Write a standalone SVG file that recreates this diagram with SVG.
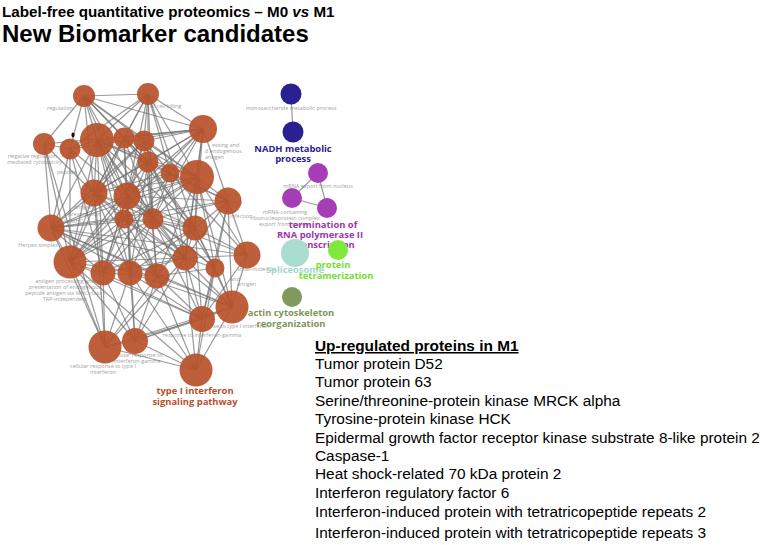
<svg xmlns="http://www.w3.org/2000/svg" width="761" height="545" viewBox="0 0 761 545">
<style>
.t1{font-family:"Liberation Sans",Arial,sans-serif;font-weight:bold;fill:#000}
.ls{font-family:"Liberation Sans",Arial,sans-serif;font-size:15.4px;fill:#000}
.gl{font-family:"Open Sans","Liberation Sans",sans-serif;font-size:5.5px;fill:#a3a3a3}
.cl{font-family:"Open Sans","Liberation Sans",sans-serif;font-size:9.4px;font-weight:bold;text-anchor:middle}
.e line{stroke:#707070;stroke-width:1.25;stroke-opacity:0.7}
.on{fill:#b8512a;fill-opacity:0.92}
</style>
<rect width="761" height="545" fill="#fff"/>
<text class="t1" x="2" y="17" font-size="15.2">Label-free quantitative proteomics – M0 <tspan font-style="italic">vs</tspan> M1</text>
<text class="t1" x="2" y="42" font-size="24">New Biomarker candidates</text>

<g id="labels-gray">
<text class="gl" x="47" y="110">regulation</text>
<text class="gl" x="150" y="108">of cell killing</text>
<text class="gl" x="212" y="147">essing and</text>
<text class="gl" x="205" y="153">d endogenous</text>
<text class="gl" x="205" y="159">antigen</text>
<text class="gl" x="57" y="158" text-anchor="end">negative regulation</text>
<text class="gl" x="62" y="164" text-anchor="end">mediated cytotoxicity</text>
<text class="gl" x="57" y="174">peptide</text>
<text class="gl" x="74" y="209">antigen</text>
<text class="gl" x="68" y="216">presentation</text>
<text class="gl" x="62" y="223">via MHC</text>
<text class="gl" x="58" y="247" text-anchor="end">Herpes simplex</text>
<text class="gl" x="65" y="283" text-anchor="middle">antigen processing and</text>
<text class="gl" x="65" y="289" text-anchor="middle">presentation of endogenous</text>
<text class="gl" x="65" y="295" text-anchor="middle">peptide antigen via MHC class I</text>
<text class="gl" x="65" y="301" text-anchor="middle">TAP-independent</text>
<text class="gl" x="103" y="368" text-anchor="middle">cellular response to type I</text>
<text class="gl" x="103" y="374" text-anchor="middle">interferon</text>
<text class="gl" x="137" y="357" text-anchor="middle">cellular response to</text>
<text class="gl" x="137" y="362.5" text-anchor="middle">interferon-gamma</text>
<text class="gl" x="202" y="337" text-anchor="middle">response to interferon-gamma</text>
<text class="gl" x="232" y="328" text-anchor="middle">response to type I interferon</text>
<text class="gl" x="237" y="271">small-molecule</text>
<text class="gl" x="230" y="281">and</text>
<text class="gl" x="237" y="286">antigen</text>
<text class="gl" x="220" y="197">and</text>
<text class="gl" x="218" y="204">enomous</text>
<text class="gl" x="220" y="210">ated</text>
<text class="gl" x="230" y="218">infection</text>
<text class="gl" x="291" y="110" text-anchor="middle">monosaccharide metabolic process</text>
<text class="gl" x="318" y="188" text-anchor="middle">mRNA export from nucleus</text>
<text class="gl" x="285" y="214" text-anchor="middle">mRNA-containing</text>
<text class="gl" x="285" y="220" text-anchor="middle">ribonucleoprotein complex</text>
<text class="gl" x="285" y="226" text-anchor="middle">export from nucleus</text>
</g>

<g id="connectors" class="e">
<line x1="84" y1="96" x2="148" y2="94"/><line x1="84" y1="96" x2="203" y2="129"/><line x1="84" y1="96" x2="44" y2="144"/><line x1="84" y1="96" x2="70" y2="149"/><line x1="84" y1="96" x2="97" y2="140"/><line x1="84" y1="96" x2="124" y2="138"/><line x1="84" y1="96" x2="144" y2="141"/><line x1="84" y1="96" x2="148" y2="162"/><line x1="84" y1="96" x2="197" y2="177"/><line x1="84" y1="96" x2="94" y2="193"/><line x1="84" y1="96" x2="127" y2="196"/><line x1="84" y1="96" x2="153" y2="219"/>
<line x1="148" y1="94" x2="203" y2="129"/><line x1="148" y1="94" x2="70" y2="149"/><line x1="148" y1="94" x2="97" y2="140"/><line x1="148" y1="94" x2="124" y2="138"/><line x1="148" y1="94" x2="144" y2="141"/><line x1="148" y1="94" x2="148" y2="162"/><line x1="148" y1="94" x2="170" y2="173"/><line x1="148" y1="94" x2="197" y2="177"/><line x1="148" y1="94" x2="94" y2="193"/><line x1="148" y1="94" x2="127" y2="196"/><line x1="148" y1="94" x2="153" y2="219"/><line x1="148" y1="94" x2="195" y2="228"/>
<line x1="203" y1="129" x2="44" y2="144"/><line x1="203" y1="129" x2="70" y2="149"/><line x1="203" y1="129" x2="97" y2="140"/><line x1="203" y1="129" x2="124" y2="138"/><line x1="203" y1="129" x2="144" y2="141"/><line x1="203" y1="129" x2="148" y2="162"/><line x1="203" y1="129" x2="170" y2="173"/><line x1="203" y1="129" x2="197" y2="177"/><line x1="203" y1="129" x2="228" y2="201"/><line x1="203" y1="129" x2="94" y2="193"/><line x1="203" y1="129" x2="127" y2="196"/><line x1="203" y1="129" x2="153" y2="219"/><line x1="203" y1="129" x2="195" y2="228"/><line x1="203" y1="129" x2="70" y2="262"/><line x1="203" y1="129" x2="185" y2="258"/>
<line x1="44" y1="144" x2="70" y2="149"/><line x1="44" y1="144" x2="51" y2="228"/><line x1="44" y1="144" x2="70" y2="262"/><line x1="44" y1="144" x2="94" y2="193"/><line x1="44" y1="144" x2="105" y2="347"/>
<line x1="70" y1="149" x2="97" y2="140"/><line x1="70" y1="149" x2="94" y2="193"/><line x1="70" y1="149" x2="127" y2="196"/><line x1="70" y1="149" x2="51" y2="228"/><line x1="70" y1="149" x2="70" y2="262"/><line x1="70" y1="149" x2="103" y2="273"/>
<line x1="97" y1="140" x2="144" y2="141"/><line x1="97" y1="140" x2="148" y2="162"/><line x1="97" y1="140" x2="94" y2="193"/><line x1="97" y1="140" x2="127" y2="196"/><line x1="97" y1="140" x2="124" y2="219"/><line x1="97" y1="140" x2="153" y2="219"/><line x1="97" y1="140" x2="51" y2="228"/><line x1="97" y1="140" x2="195" y2="228"/><line x1="97" y1="140" x2="70" y2="262"/><line x1="97" y1="140" x2="103" y2="273"/><line x1="97" y1="140" x2="130" y2="273"/><line x1="97" y1="140" x2="157" y2="276"/><line x1="97" y1="140" x2="185" y2="258"/><line x1="97" y1="140" x2="197" y2="177"/><line x1="97" y1="140" x2="228" y2="201"/>
<line x1="124" y1="138" x2="148" y2="162"/><line x1="124" y1="138" x2="94" y2="193"/><line x1="124" y1="138" x2="127" y2="196"/><line x1="124" y1="138" x2="153" y2="219"/><line x1="124" y1="138" x2="195" y2="228"/><line x1="124" y1="138" x2="70" y2="262"/><line x1="124" y1="138" x2="130" y2="273"/><line x1="124" y1="138" x2="197" y2="177"/>
<line x1="144" y1="141" x2="170" y2="173"/><line x1="144" y1="141" x2="197" y2="177"/><line x1="144" y1="141" x2="94" y2="193"/><line x1="144" y1="141" x2="124" y2="219"/><line x1="144" y1="141" x2="51" y2="228"/><line x1="144" y1="141" x2="103" y2="273"/><line x1="144" y1="141" x2="157" y2="276"/><line x1="144" y1="141" x2="185" y2="258"/>
<line x1="148" y1="162" x2="197" y2="177"/><line x1="148" y1="162" x2="94" y2="193"/><line x1="148" y1="162" x2="124" y2="219"/><line x1="148" y1="162" x2="153" y2="219"/><line x1="148" y1="162" x2="195" y2="228"/><line x1="148" y1="162" x2="70" y2="262"/><line x1="148" y1="162" x2="130" y2="273"/><line x1="148" y1="162" x2="157" y2="276"/><line x1="148" y1="162" x2="215" y2="268"/><line x1="148" y1="162" x2="228" y2="201"/>
<line x1="170" y1="173" x2="94" y2="193"/><line x1="170" y1="173" x2="127" y2="196"/><line x1="170" y1="173" x2="153" y2="219"/><line x1="170" y1="173" x2="103" y2="273"/><line x1="170" y1="173" x2="185" y2="258"/><line x1="170" y1="173" x2="247" y2="255"/>
<line x1="197" y1="177" x2="228" y2="201"/><line x1="197" y1="177" x2="94" y2="193"/><line x1="197" y1="177" x2="127" y2="196"/><line x1="197" y1="177" x2="124" y2="219"/><line x1="197" y1="177" x2="153" y2="219"/><line x1="197" y1="177" x2="51" y2="228"/><line x1="197" y1="177" x2="195" y2="228"/><line x1="197" y1="177" x2="70" y2="262"/><line x1="197" y1="177" x2="157" y2="276"/><line x1="197" y1="177" x2="185" y2="258"/><line x1="197" y1="177" x2="215" y2="268"/><line x1="197" y1="177" x2="247" y2="255"/><line x1="197" y1="177" x2="232" y2="307"/>
<line x1="228" y1="201" x2="127" y2="196"/><line x1="228" y1="201" x2="153" y2="219"/><line x1="228" y1="201" x2="51" y2="228"/><line x1="228" y1="201" x2="195" y2="228"/><line x1="228" y1="201" x2="185" y2="258"/><line x1="228" y1="201" x2="215" y2="268"/><line x1="228" y1="201" x2="247" y2="255"/><line x1="228" y1="201" x2="232" y2="307"/><line x1="228" y1="201" x2="202" y2="319"/>
<line x1="94" y1="193" x2="124" y2="219"/><line x1="94" y1="193" x2="153" y2="219"/><line x1="94" y1="193" x2="51" y2="228"/><line x1="94" y1="193" x2="195" y2="228"/><line x1="94" y1="193" x2="70" y2="262"/><line x1="94" y1="193" x2="103" y2="273"/><line x1="94" y1="193" x2="130" y2="273"/><line x1="94" y1="193" x2="157" y2="276"/><line x1="94" y1="193" x2="185" y2="258"/><line x1="94" y1="193" x2="105" y2="347"/>
<line x1="127" y1="196" x2="153" y2="219"/><line x1="127" y1="196" x2="51" y2="228"/><line x1="127" y1="196" x2="195" y2="228"/><line x1="127" y1="196" x2="70" y2="262"/><line x1="127" y1="196" x2="103" y2="273"/><line x1="127" y1="196" x2="130" y2="273"/><line x1="127" y1="196" x2="157" y2="276"/><line x1="127" y1="196" x2="185" y2="258"/><line x1="127" y1="196" x2="215" y2="268"/><line x1="127" y1="196" x2="135" y2="341"/>
<line x1="124" y1="219" x2="51" y2="228"/><line x1="124" y1="219" x2="195" y2="228"/><line x1="124" y1="219" x2="70" y2="262"/><line x1="124" y1="219" x2="103" y2="273"/><line x1="124" y1="219" x2="157" y2="276"/><line x1="124" y1="219" x2="185" y2="258"/><line x1="124" y1="219" x2="232" y2="307"/>
<line x1="153" y1="219" x2="51" y2="228"/><line x1="153" y1="219" x2="195" y2="228"/><line x1="153" y1="219" x2="70" y2="262"/><line x1="153" y1="219" x2="103" y2="273"/><line x1="153" y1="219" x2="130" y2="273"/><line x1="153" y1="219" x2="185" y2="258"/><line x1="153" y1="219" x2="215" y2="268"/><line x1="153" y1="219" x2="247" y2="255"/><line x1="153" y1="219" x2="202" y2="319"/>
<line x1="51" y1="228" x2="70" y2="262"/><line x1="51" y1="228" x2="103" y2="273"/><line x1="51" y1="228" x2="130" y2="273"/><line x1="51" y1="228" x2="157" y2="276"/><line x1="51" y1="228" x2="185" y2="258"/><line x1="51" y1="228" x2="247" y2="255"/><line x1="51" y1="228" x2="232" y2="307"/><line x1="51" y1="228" x2="105" y2="347"/>
<line x1="195" y1="228" x2="103" y2="273"/><line x1="195" y1="228" x2="130" y2="273"/><line x1="195" y1="228" x2="157" y2="276"/><line x1="195" y1="228" x2="185" y2="258"/><line x1="195" y1="228" x2="215" y2="268"/><line x1="195" y1="228" x2="247" y2="255"/><line x1="195" y1="228" x2="232" y2="307"/><line x1="195" y1="228" x2="202" y2="319"/>
<line x1="70" y1="262" x2="103" y2="273"/><line x1="70" y1="262" x2="157" y2="276"/><line x1="70" y1="262" x2="185" y2="258"/><line x1="70" y1="262" x2="202" y2="319"/><line x1="70" y1="262" x2="105" y2="347"/><line x1="70" y1="262" x2="135" y2="341"/><line x1="70" y1="262" x2="196" y2="370"/>
<line x1="103" y1="273" x2="157" y2="276"/><line x1="103" y1="273" x2="185" y2="258"/><line x1="103" y1="273" x2="202" y2="319"/><line x1="103" y1="273" x2="105" y2="347"/><line x1="103" y1="273" x2="135" y2="341"/>
<line x1="130" y1="273" x2="185" y2="258"/><line x1="130" y1="273" x2="232" y2="307"/><line x1="130" y1="273" x2="202" y2="319"/><line x1="130" y1="273" x2="105" y2="347"/><line x1="130" y1="273" x2="135" y2="341"/><line x1="130" y1="273" x2="196" y2="370"/>
<line x1="157" y1="276" x2="215" y2="268"/><line x1="157" y1="276" x2="232" y2="307"/><line x1="157" y1="276" x2="202" y2="319"/><line x1="157" y1="276" x2="105" y2="347"/><line x1="157" y1="276" x2="135" y2="341"/><line x1="157" y1="276" x2="196" y2="370"/>
<line x1="185" y1="258" x2="215" y2="268"/><line x1="185" y1="258" x2="232" y2="307"/><line x1="185" y1="258" x2="202" y2="319"/><line x1="185" y1="258" x2="105" y2="347"/><line x1="185" y1="258" x2="135" y2="341"/><line x1="185" y1="258" x2="196" y2="370"/><line x1="185" y1="258" x2="247" y2="255"/>
<line x1="215" y1="268" x2="232" y2="307"/><line x1="215" y1="268" x2="202" y2="319"/><line x1="215" y1="268" x2="196" y2="370"/>
<line x1="247" y1="255" x2="232" y2="307"/><line x1="247" y1="255" x2="202" y2="319"/>
<line x1="232" y1="307" x2="202" y2="319"/><line x1="232" y1="307" x2="135" y2="341"/><line x1="232" y1="307" x2="196" y2="370"/><line x1="232" y1="307" x2="105" y2="347"/>
<line x1="202" y1="319" x2="105" y2="347"/><line x1="202" y1="319" x2="135" y2="341"/><line x1="202" y1="319" x2="196" y2="370"/>
<line x1="105" y1="347" x2="135" y2="341"/><line x1="105" y1="347" x2="196" y2="370"/><line x1="135" y1="341" x2="196" y2="370"/>
<line x1="291" y1="94" x2="293" y2="132"/>
<line x1="318" y1="173" x2="292" y2="198"/><line x1="318" y1="173" x2="327" y2="208"/><line x1="292" y1="198" x2="327" y2="208"/>
</g>

<g id="orange-nodes">
<circle id="n1" class="on" cx="84" cy="96" r="11"/>
<circle id="n2" class="on" cx="148" cy="94" r="11"/>
<circle id="n3" class="on" cx="203" cy="129" r="14"/>
<circle id="n4" class="on" cx="44" cy="144" r="11"/>
<circle id="n5" class="on" cx="70" cy="149" r="10.5"/>
<circle id="n6" class="on" cx="97" cy="140" r="17"/>
<circle id="n7" class="on" cx="124" cy="138" r="10.5"/>
<circle id="n8" class="on" cx="144" cy="141" r="10.5"/>
<circle id="n9" class="on" cx="148" cy="162" r="10.5"/>
<circle id="n10" class="on" cx="170" cy="173" r="9.5"/>
<circle id="n11" class="on" cx="197" cy="177" r="17"/>
<circle id="n12" class="on" cx="228" cy="201" r="13.5"/>
<circle id="n13" class="on" cx="94" cy="193" r="13.5"/>
<circle id="n14" class="on" cx="127" cy="196" r="13.5"/>
<circle id="n15" class="on" cx="124" cy="219" r="9.5"/>
<circle id="n16" class="on" cx="153" cy="219" r="10.5"/>
<circle id="n17" class="on" cx="51" cy="228" r="13.5"/>
<circle id="n18" class="on" cx="195" cy="228" r="12.5"/>
<circle id="n19" class="on" cx="70" cy="262" r="16.5"/>
<circle id="n20" class="on" cx="103" cy="273" r="12.5"/>
<circle id="n21" class="on" cx="130" cy="273" r="12.5"/>
<circle id="n22" class="on" cx="157" cy="276" r="12.5"/>
<circle id="n23" class="on" cx="185" cy="258" r="12.5"/>
<circle id="n24" class="on" cx="215" cy="268" r="9.5"/>
<circle id="n25" class="on" cx="247" cy="255" r="13.5"/>
<circle id="n26" class="on" cx="232" cy="307" r="16.5"/>
<circle id="n27" class="on" cx="202" cy="319" r="13"/>
<circle id="n28" class="on" cx="105" cy="347" r="16.5"/>
<circle id="n29" class="on" cx="135" cy="341" r="13"/>
<circle id="n30" class="on" cx="196" cy="370" r="16.5"/>
<ellipse cx="73" cy="135" rx="1.6" ry="2.4" fill="#111"/>
</g>

<g id="type1-label"><text class="cl" x="195" y="394" fill="#b5502a">type I interferon</text><text class="cl" x="195" y="405" fill="#b5502a">signaling pathway</text></g>

<g id="nadh">
<circle cx="291" cy="94" r="10.5" fill="#2b2090"/>
<circle cx="293" cy="132" r="10.5" fill="#2b2090"/>
<text class="cl" x="293" y="152" fill="#2b2090">NADH metabolic</text>
<text class="cl" x="293" y="162" fill="#2b2090">process</text>
</g>

<g id="rna">
<circle cx="318" cy="173" r="10" fill="#a63db6"/>
<circle cx="292" cy="198" r="10" fill="#a63db6"/>
<circle cx="327" cy="208" r="10" fill="#a63db6"/>
<text class="cl" x="323" y="228" fill="#9a36ad">termination of</text>
<text class="cl" x="320" y="238" fill="#9a36ad">RNA polymerase II</text>
<text class="cl" x="324" y="248" fill="#9a36ad">transcription</text>
</g>

<g id="spliceosome">
<circle cx="295" cy="253" r="14" fill="#abdcd0"/>
<text class="cl" x="295" y="273" fill="#a4d8cc" font-weight="normal">Spliceosome</text>
</g>

<g id="tetramer">
<circle cx="338" cy="250" r="10" fill="#7fe83c"/>
<text class="cl" x="333" y="268" fill="#72e030">protein</text>
<text class="cl" x="336" y="279" fill="#72e030">tetramerization</text>
</g>

<g id="actin">
<circle cx="292" cy="297" r="10" fill="#809a5d"/>
<text class="cl" x="291" y="316" fill="#7d9559">actin cytoskeleton</text>
<text class="cl" x="291" y="327" fill="#7d9559">reorganization</text>
</g>

<g id="protein-list">
<text class="ls" x="315" y="351" font-weight="bold" text-decoration="underline">Up-regulated proteins in M1</text>
<text class="ls" x="315" y="369">Tumor protein D52</text>
<text class="ls" x="315" y="387">Tumor protein 63</text>
<text class="ls" x="315" y="406">Serine/threonine-protein kinase MRCK alpha</text>
<text class="ls" x="315" y="424">Tyrosine-protein kinase HCK</text>
<text class="ls" x="315" y="443">Epidermal growth factor receptor kinase substrate 8-like protein 2</text>
<text class="ls" x="315" y="461">Caspase-1</text>
<text class="ls" x="315" y="479">Heat shock-related 70 kDa protein 2</text>
<text class="ls" x="315" y="498">Interferon regulatory factor 6</text>
<text class="ls" x="315" y="517">Interferon-induced protein with tetratricopeptide repeats 2</text>
<text class="ls" x="315" y="538">Interferon-induced protein with tetratricopeptide repeats 3</text>
</g>
</svg>
